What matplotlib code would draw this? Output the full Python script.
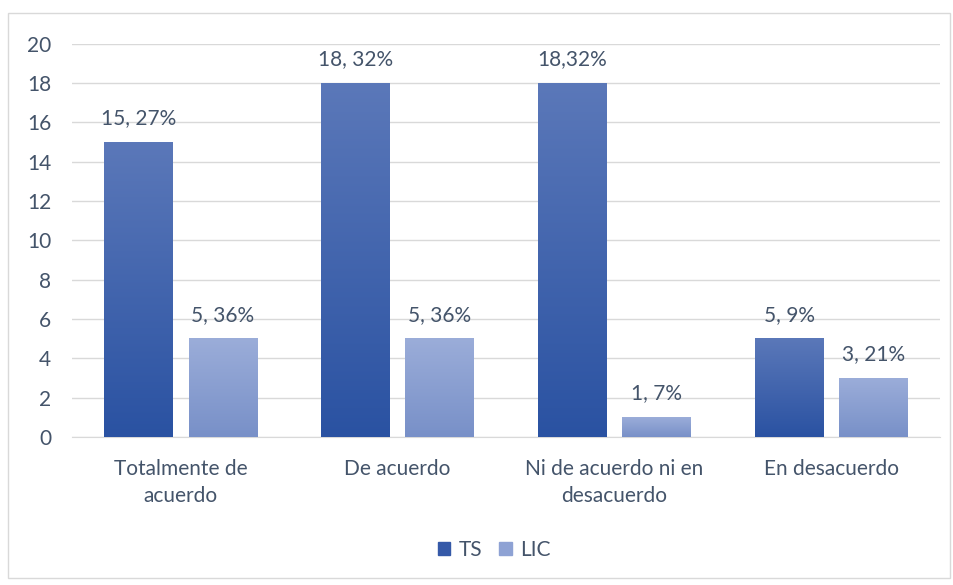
import numpy as np
import matplotlib.pyplot as plt
from matplotlib.patches import Rectangle, Patch

categories = ["Totalmente de\nacuerdo", "De acuerdo", "Ni de acuerdo ni en\ndesacuerdo", "En desacuerdo"]
ts_values = [15, 18, 18, 5]
lic_values = [5, 5, 1, 3]
ts_labels = ["15, 27%", "18, 32%", "18,32%", "5, 9%"]
lic_labels = ["5, 36%", "5, 36%", "1, 7%", "3, 21%"]

plt.rcParams['font.family'] = ['Lato', 'DejaVu Sans']
text_color = '#44546a'
fs = 15

fig = plt.figure(figsize=(9.54, 5.85), dpi=100)
ax = fig.add_axes([0.0755, 0.253, 0.9095, 0.672])

x = np.arange(len(categories))
w = 0.314
off = 0.194

ts_bars = ax.bar(x - off, ts_values, w, color='#3a62b0', zorder=2)
lic_bars = ax.bar(x + off, lic_values, w, color='#8ea2d4', zorder=2)

# gradient fill, light at top -> darker at bottom
def gradient(bars, top, bottom):
    top = np.array(plt.matplotlib.colors.to_rgb(top))
    bottom = np.array(plt.matplotlib.colors.to_rgb(bottom))
    t = np.linspace(0, 1, 256)[:, None]
    img = (top * (1 - t) + bottom * t)[:, None, :]
    for b in bars:
        x0, h, bw = b.get_x(), b.get_height(), b.get_width()
        ax.imshow(img, extent=[x0, x0 + bw, 0, h], aspect='auto', zorder=3,
                  interpolation='bilinear')

gradient(ts_bars, '#5b78b9', '#2a52a2')
gradient(lic_bars, '#9badd9', '#7890c8')

for b, lab in zip(ts_bars, ts_labels):
    ax.text(b.get_x() + b.get_width() / 2, b.get_height() + 0.7, lab,
            ha='center', va='bottom', fontsize=fs, color=text_color, zorder=4)
for b, lab in zip(lic_bars, lic_labels):
    ax.text(b.get_x() + b.get_width() / 2, b.get_height() + 0.7, lab,
            ha='center', va='bottom', fontsize=fs, color=text_color, zorder=4)

ax.set_xlim(-0.5, 3.5)
ax.set_ylim(0, 20)
ax.set_yticks(range(0, 21, 2))
ax.set_xticks(x)
ax.set_xticklabels(categories, fontsize=fs, color=text_color, linespacing=1.45)
ax.tick_params(axis='y', labelsize=fs, labelcolor=text_color, length=0, pad=15)
ax.tick_params(axis='x', length=0, pad=16)
ax.grid(axis='y', color='#d9d9d9', linewidth=1, zorder=0)
for s in ['top', 'right', 'left']:
    ax.spines[s].set_visible(False)
ax.spines['bottom'].set_color('#d9d9d9')

handles = [Patch(color='#3559a8', label='TS'), Patch(color='#8ea2d4', label='LIC')]
fig.legend(handles=handles, loc='center', bbox_to_anchor=(0.518, 0.06), ncol=2,
           frameon=False, fontsize=fs, handlelength=0.6, handleheight=0.6,
           handletextpad=0.4, columnspacing=0.8, labelcolor=text_color)

fig.add_artist(Rectangle((8 / 954, 1 - 578 / 585), 942 / 954, 565 / 585,
                         transform=fig.transFigure, fill=False,
                         edgecolor='#d9d9d9', linewidth=1))

fig.savefig('out.png', dpi=100)
